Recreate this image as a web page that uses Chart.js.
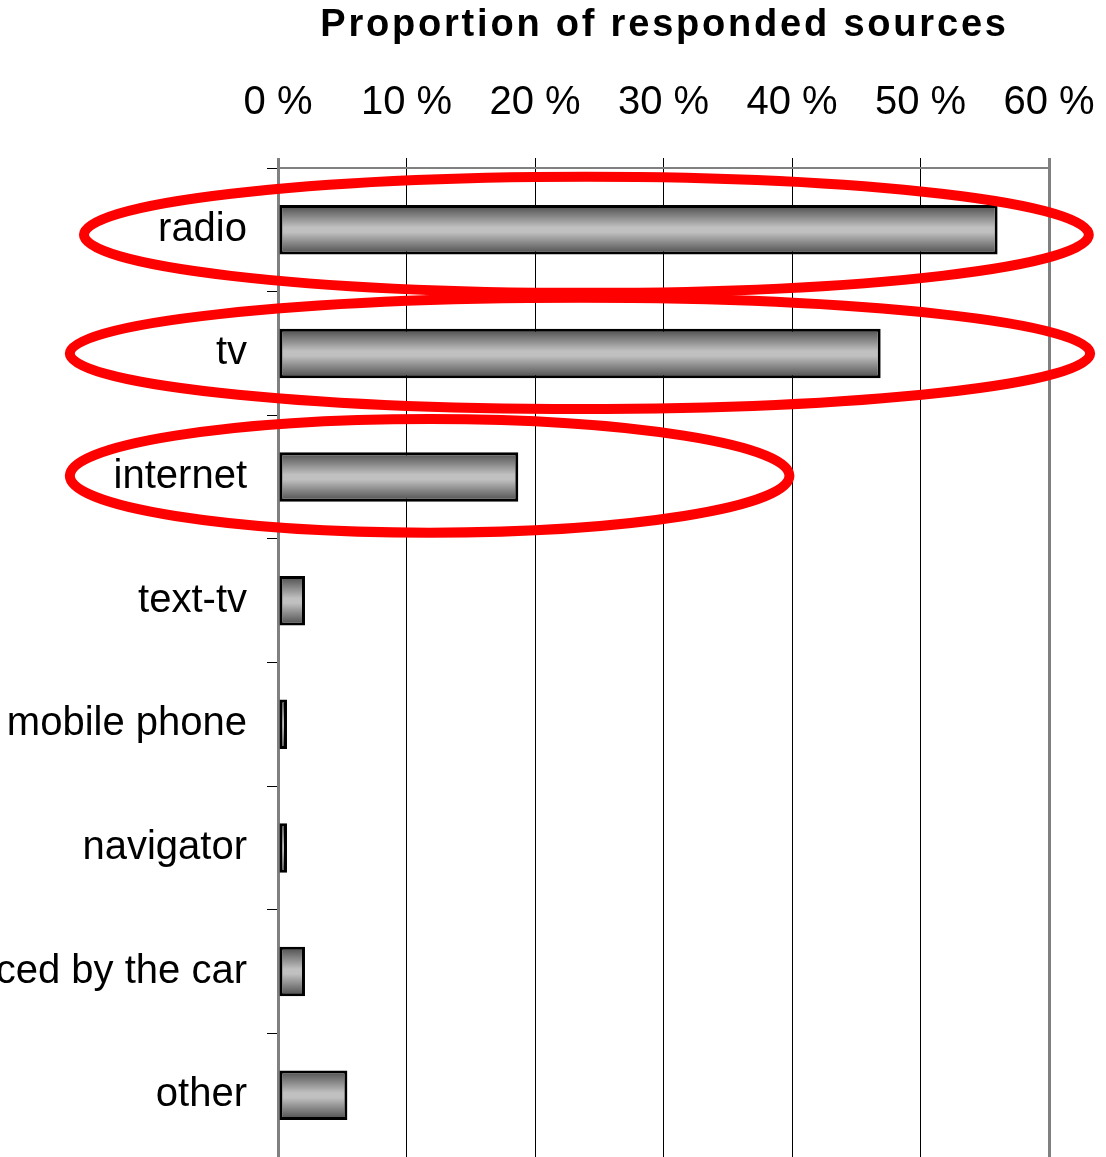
<!DOCTYPE html>
<html>
<head>
<meta charset="utf-8">
<script src="https://cdn.jsdelivr.net/npm/chart.js@4"></script>
<style>
    html, body { margin: 0; padding: 0; background: #fff; }
    #wrap { width: 1106px; height: 1157px; }
</style>
</head>
<body>
<div id="wrap"><canvas id="graph"></canvas></div>
<script>
const titleText = 'Proportion of responded sources';
const categories = ['radio', 'tv', 'internet', 'text-tv', 'mobile phone', 'navigator', 'announced by the car', 'other'];
const shares = [56.0, 46.9, 18.7, 2.1, 0.7, 0.7, 2.1, 5.4];
const tickValues = [0, 10, 20, 30, 40, 50, 60];
const highlighted = ['radio', 'tv', 'internet'];

const fontFamily = '"Liberation Sans", Arial, sans-serif';
const barShare = 0.4;

// Grey metallic look of the bars
function barGradient(ctx) {
    const chart = ctx.chart;
    const ys = chart.scales.y;
    if (!ys || !chart.chartArea || ctx.dataIndex === undefined) return '#b0b0b0';
    const c = ys.getPixelForValue(ctx.dataIndex);
    const half = (ys.height / categories.length) * barShare / 2;
    const g = chart.ctx.createLinearGradient(0, c - half, 0, c + half);
    g.addColorStop(0, '#4a4a4a');
    g.addColorStop(0.45, '#c0c0c0');
    g.addColorStop(0.55, '#c0c0c0');
    g.addColorStop(1, '#4a4a4a');
    return g;
}

// no automatic room for half labels, the layout padding decides
function noLabelPadding(s) {
    s.paddingLeft = 0;
    s.paddingRight = 0;
    s.paddingTop = 0;
    s.paddingBottom = 0;
}

// Title with letter spacing, centred over the plot area
const spacedTitle = {
    id: 'spacedTitle',
    afterDraw(chart) {
        const ctx = chart.ctx;
        const area = chart.chartArea;
        ctx.save();
        ctx.font = `bold 38px ${fontFamily}`;
        ctx.letterSpacing = '2.8px';
        ctx.fillStyle = '#000';
        ctx.textAlign = 'center';
        ctx.textBaseline = 'middle';
        ctx.fillText(titleText, (area.left + area.right) / 2 + 1, 26);
        ctx.restore();
    }
};

// Hand drawn red rings round the three main sources
const rings = {
    id: 'rings',
    afterDraw(chart, args, opts) {
        const ctx = chart.ctx;
        const xs = chart.scales.x;
        const ys = chart.scales.y;
        const band = ys.height / categories.length;
        ctx.save();
        ctx.strokeStyle = '#ff0000';
        ctx.lineWidth = 10;
        opts.items.forEach(r => {
            const i = categories.indexOf(r.label);
            const cx = xs.getPixelForValue(r.center);
            const rx = xs.getPixelForValue(r.center + r.radius) - cx;
            const cy = ys.getPixelForValue(i) + r.shift * band;
            ctx.beginPath();
            ctx.ellipse(cx, cy, rx, r.height * band, 0, 0, Math.PI * 2);
            ctx.stroke();
        });
        ctx.restore();
    }
};

const config = {
    type: 'bar',
    data: {
        labels: categories,
        datasets: [
            {
                data: shares,
                backgroundColor: barGradient,
                borderColor: '#000',
                borderWidth: 3,
                borderSkipped: false,
                categoryPercentage: 1,
                barPercentage: barShare
            }
        ]
    },
    options: {
        indexAxis: 'y',
        responsive: true,
        maintainAspectRatio: false,
        animation: false,
        layout: { padding: { top: 48, right: 57, bottom: 0, left: 0 } },
        scales: {
            x: {
                position: 'top',
                min: 0,
                max: 60,
                afterBuildTicks: s => { s.ticks = tickValues.map(v => ({ value: v })); },
                afterFit: noLabelPadding,
                ticks: {
                    color: '#000',
                    padding: 31,
                    maxRotation: 0,
                    font: { family: fontFamily, size: 40 },
                    callback: v => `${v} %`
                },
                grid: {
                    tickLength: 10,
                    color: c => (c.index === 0 || c.index === tickValues.length - 1 ? '#808080' : '#000'),
                    lineWidth: c => (c.index === 0 || c.index === tickValues.length - 1 ? 3 : 1)
                },
                border: { color: '#808080', width: 2 }
            },
            y: {
                afterFit: s => { noLabelPadding(s); s.width = 278; },
                ticks: {
                    color: '#000',
                    padding: 20,
                    font: { family: fontFamily, size: 40 }
                },
                grid: {
                    offset: true,
                    drawOnChartArea: false,
                    tickLength: 11,
                    color: '#000',
                    lineWidth: 1
                },
                border: { color: '#808080', width: 3 }
            }
        },
        plugins: {
            legend: { display: false },
            tooltip: { enabled: false },
            rings: {
                items: [
                    { label: highlighted[0], center: 24.0, radius: 39.1, height: 0.47, shift: 0.04 },
                    { label: highlighted[1], center: 23.5, radius: 39.7, height: 0.45, shift: 0 },
                    { label: highlighted[2], center: 11.8, radius: 28.0, height: 0.46, shift: -0.01 }
                ]
            }
        }
    },
    plugins: [spacedTitle, rings]
};

const ctx = document.getElementById('graph').getContext('2d');
const chart = new Chart(ctx, config);
</script>
</body>
</html>
